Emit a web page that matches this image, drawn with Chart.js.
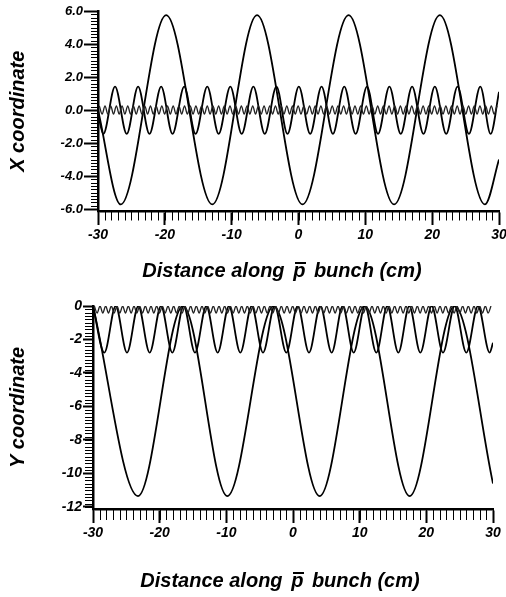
<!DOCTYPE html>
<html>
<head>
<meta charset="utf-8">
<script src="https://cdn.jsdelivr.net/npm/chart.js@4.4.1/dist/chart.umd.min.js"></script>
<style>
  html, body { margin: 0; padding: 0; background: #fff; }
  body { width: 506px; height: 597px; overflow: hidden; position: relative; }
  canvas { position: absolute; left: 0; }
  #topChart { top: 0; }
  #bottomChart { top: 290px; }
  .caption {
    position: absolute; width: 400px; text-align: center; white-space: pre;
    font: italic bold 20px/24px 'Liberation Sans', Arial, sans-serif; color: #000;
  }
  .pbar { position: relative; margin: 0 3px; }
  .pbar::before {
    content: ''; position: absolute; left: 2px; right: -1px; top: 3px; height: 2px; background: #000;
  }
</style>
</head>
<body>
<canvas id="topChart" width="520" height="290"></canvas>
<canvas id="bottomChart" width="520" height="307"></canvas>
<div class="caption" style="left:82px; top:258px">Distance along <span class="pbar">p</span> bunch (cm)</div>
<div class="caption" style="left:80px; top:568px">Distance along <span class="pbar">p</span> bunch (cm)</div>
<script>
// tick labels
const zTicks = [-30, -20, -10, 0, 10, 20, 30];
const xCoordTicks = [6, 4, 2, 0, -2, -4, -6];
const yCoordTicks = [0, -2, -4, -6, -8, -10, -12];

// X coordinate: slow oscillation (crests / troughs along the bunch)
const xBigZ = [-30, -26.6, -19.8, -12.9, -6.2, 0.6, 7.5, 14.3, 21.15, 27.9, 30];
const xBigV = [0, -5.72, 5.75, -5.72, 5.75, -5.72, 5.75, -5.72, 5.75, -5.72, -3.0];

// X coordinate: medium oscillation
const xMidZ = [-30, -29.2, -27.45, -25.7, -24.0, -22.3, -20.55, -18.85, -17.1, -15.4, -13.65,
  -11.95, -10.2, -8.5, -6.75, -5.05, -3.3, -1.65, 0.05, 1.75, 3.45, 5.15, 6.85, 8.55, 10.25,
  11.9, 13.6, 15.3, 17.0, 18.7, 20.4, 22.1, 23.8, 25.5, 27.2, 28.75, 30];
const xMidV = [-0.2, -1.45, 1.42, -1.45, 1.42, -1.45, 1.42, -1.45, 1.42, -1.45, 1.42,
  -1.45, 1.42, -1.45, 1.42, -1.45, 1.42, -1.45, 1.42, -1.45, 1.42, -1.45, 1.42, -1.45, 1.42,
  -1.45, 1.42, -1.45, 1.42, -1.45, 1.42, -1.45, 1.42, -1.45, 1.42, -1.45, 1.1];

// Y coordinate: slow oscillation
const yBigZ = [-30, -23.25, -16.5, -9.85, -2.9, 4.0, 10.75, 17.5, 24.25, 30];
const yBigV = [0, -11.35, 0, -11.35, 0, -11.35, 0, -11.35, 0, -10.6];

// Y coordinate: medium oscillation
const yMidZ = [-30, -28.3, -26.6, -24.9, -23.2, -21.5, -19.8, -18.1, -16.4, -14.7, -13.0,
  -11.3, -9.6, -7.9, -6.2, -4.5, -2.75, -1.0, 0.7, 2.4, 4.1, 5.8, 7.45, 9.1, 10.8,
  12.5, 14.15, 15.8, 17.45, 19.1, 20.8, 22.5, 24.25, 26.0, 27.75, 29.5, 30];
const yMidV = [0, -2.78, 0, -2.78, 0, -2.78, 0, -2.78, 0, -2.78, 0,
  -2.78, 0, -2.78, 0, -2.78, 0, -2.78, 0, -2.78, 0, -2.78, 0, -2.78, 0,
  -2.78, 0, -2.78, 0, -2.78, 0, -2.78, 0, -2.78, 0, -2.78, -2.2];

// fast wiggle: crest and trough positions, shared by both panels
const wiggleCrestZ = [-29.8, -28.95, -28.1, -27.25, -26.4, -25.55, -24.7, -23.85, -23.0, -22.15,
  -21.3, -20.45, -19.6, -18.75, -17.9, -17.05, -16.2, -15.35, -14.5, -13.65, -12.8, -11.95,
  -11.1, -10.25, -9.4, -8.55, -7.7, -6.85, -6.0, -5.15, -4.3, -3.45, -2.6, -1.75, -0.9, -0.05,
  0.8, 1.65, 2.5, 3.35, 4.2, 5.05, 5.9, 6.75, 7.6, 8.45, 9.3, 10.15, 11.0, 11.85, 12.7, 13.55,
  14.4, 15.25, 16.1, 16.95, 17.8, 18.65, 19.5, 20.35, 21.2, 22.05, 22.9, 23.75, 24.6, 25.45,
  26.3, 27.15, 28.0, 28.85, 29.7];
const wiggleTroughZ = [-29.38, -28.53, -27.68, -26.83, -25.98, -25.13, -24.28, -23.43, -22.58,
  -21.73, -20.88, -20.03, -19.18, -18.33, -17.48, -16.63, -15.78, -14.93, -14.08, -13.23,
  -12.38, -11.53, -10.68, -9.83, -8.98, -8.13, -7.28, -6.43, -5.58, -4.73, -3.88, -3.03, -2.18,
  -1.33, -0.48, 0.37, 1.22, 2.07, 2.92, 3.77, 4.62, 5.47, 6.32, 7.17, 8.02, 8.87, 9.72, 10.57,
  11.42, 12.27, 13.12, 13.97, 14.82, 15.67, 16.52, 17.37, 18.22, 19.07, 19.92, 20.77, 21.62,
  22.47, 23.32, 24.17, 25.02, 25.87, 26.72, 27.57, 28.42, 29.27];
const xWiggleHi = 0.25, xWiggleLo = -0.25;
const yWiggleHi = 0, yWiggleLo = -0.42;

const FONT = "'Liberation Sans', Arial, sans-serif";

function pairs(zs, vs) {
  return zs.map((z, i) => ({ x: z, y: vs[i] }));
}

function wiggle(hi, lo) {
  return wiggleCrestZ.map(z => ({ x: z, y: hi }))
    .concat(wiggleTroughZ.map(z => ({ x: z, y: lo })))
    .sort((a, b) => a.x - b.x);
}

function curve(data, width, color) {
  return {
    data, borderColor: color || '#000', borderWidth: width, pointRadius: 0,
    cubicInterpolationMode: 'monotone', fill: false
  };
}

// small tick marks between the labelled ones
const minorTicks = {
  id: 'minorTicks',
  afterDraw(chart, args, o) {
    const { ctx, chartArea: a, scales: { x, y } } = chart;
    ctx.save();
    ctx.strokeStyle = '#000';
    ctx.lineWidth = 1;
    ctx.beginPath();
    const nx = Math.round((o.xTo - o.xFrom) / o.xStep);
    for (let i = 0; i <= nx; i++) {
      const px = Math.round(x.getPixelForValue(o.xFrom + i * o.xStep)) + 0.5;
      ctx.moveTo(px, a.bottom);
      ctx.lineTo(px, a.bottom + o.xLen);
    }
    const ny = Math.round((o.yTo - o.yFrom) / o.yStep);
    for (let i = 0; i <= ny; i++) {
      const py = Math.round(y.getPixelForValue(o.yFrom + i * o.yStep)) + 0.5;
      ctx.moveTo(a.left, py);
      ctx.lineTo(a.left - o.yLen, py);
    }
    ctx.stroke();
    ctx.restore();
  }
};

function makeChart(id, cfg) {
  return new Chart(document.getElementById(id), {
    type: 'line',
    data: { datasets: cfg.datasets },
    options: {
      responsive: false,
      animation: false,
      devicePixelRatio: 1,
      layout: { padding: cfg.padding },
      plugins: { legend: { display: false }, tooltip: { enabled: false }, minorTicks: cfg.minor },
      scales: {
        x: {
          type: 'linear', min: -30, max: 30,
          afterFit: s => { s.height = cfg.xHeight; },
          afterBuildTicks: s => { s.ticks = zTicks.map(v => ({ value: v })); },
          border: { display: true, color: '#000', width: 2.5 },
          grid: { drawOnChartArea: false, tickLength: cfg.xTickLen, tickColor: '#000', tickWidth: 2 },
          ticks: {
            color: '#000', padding: cfg.xPad, maxRotation: 0,
            font: { family: FONT, size: 14, style: 'italic', weight: 'bold' }
          }
        },
        y: {
          type: 'linear', min: cfg.yMin, max: cfg.yMax,
          afterFit: s => { s.width = cfg.yWidth; },
          afterBuildTicks: s => { s.ticks = cfg.yTicks.map(v => ({ value: v })); },
          border: { display: true, color: '#000', width: 2.5 },
          grid: { drawOnChartArea: false, tickLength: cfg.yTickLen, tickColor: '#000', tickWidth: 2 },
          ticks: {
            color: '#000', padding: cfg.yPad, callback: cfg.yFormat,
            font: { family: FONT, size: cfg.yFont, style: 'italic', weight: 'bold' }
          },
          title: {
            display: true, text: cfg.yTitle, color: '#000', padding: { top: 6, bottom: 0 },
            font: { family: FONT, size: 20, style: 'italic', weight: 'bold' }
          }
        }
      }
    },
    plugins: [minorTicks]
  });
}

makeChart('topChart', {
  datasets: [
    curve(wiggle(xWiggleHi, xWiggleLo), 1.3, '#222'),
    curve(pairs(xMidZ, xMidV), 1.8),
    curve(pairs(xBigZ, xBigV), 1.8)
  ],
  padding: { left: 0, top: 11, right: 21, bottom: 0 },
  xHeight: 78.5, xTickLen: 13.5, xPad: 2,
  yMin: -6.15, yMax: 6, yTicks: xCoordTicks, yWidth: 98, yTickLen: 14, yPad: 1, yFont: 13,
  yFormat: v => v.toFixed(1), yTitle: 'X coordinate',
  minor: { xFrom: -30, xTo: 30, xStep: 1, xLen: 9, yFrom: -6, yTo: 6, yStep: 0.2, yLen: 7 }
});

makeChart('bottomChart', {
  datasets: [
    curve(wiggle(yWiggleHi, yWiggleLo), 1.3, '#222'),
    curve(pairs(yMidZ, yMidV), 1.8),
    curve(pairs(yBigZ, yBigV), 1.8)
  ],
  padding: { left: 0, top: 16, right: 27, bottom: 0 },
  xHeight: 88, xTickLen: 14, xPad: 2,
  yMin: -12.12, yMax: 0, yTicks: yCoordTicks, yWidth: 93, yTickLen: 10, yPad: 1, yFont: 14,
  yFormat: v => String(v), yTitle: 'Y coordinate',
  minor: { xFrom: -30, xTo: 30, xStep: 1, xLen: 11, yFrom: -12, yTo: 0, yStep: 0.2, yLen: 8 }
});
</script>
</body>
</html>
